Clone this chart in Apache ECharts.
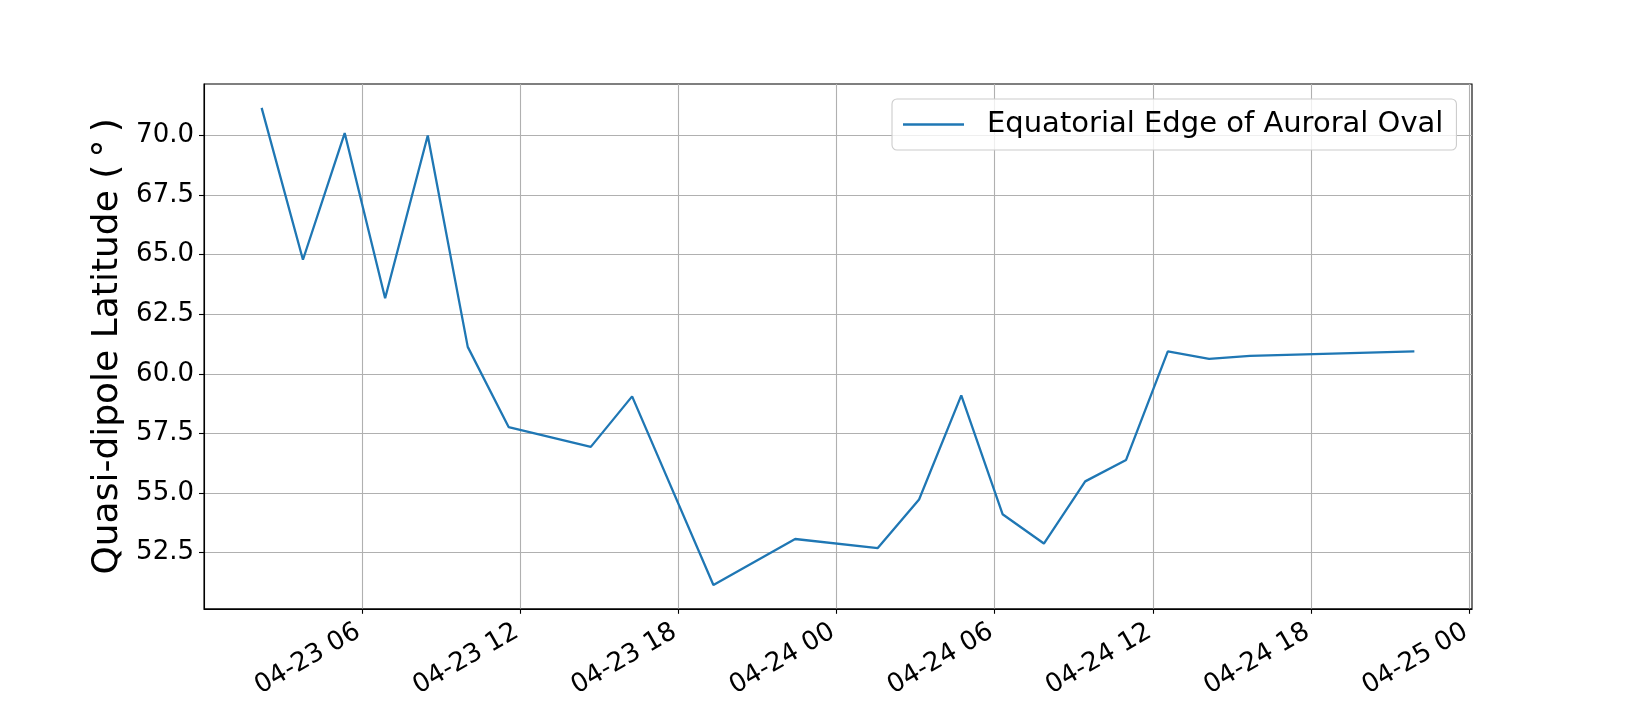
<!DOCTYPE html>
<html>
<head>
<meta charset="utf-8">
<title>Equatorial Edge of Auroral Oval</title>
<script src="https://cdn.jsdelivr.net/npm/echarts@6/dist/echarts.min.js"></script>
<style>
  html, body { margin: 0; padding: 0; background: #fff; }
  #chart { width: 1635px; height: 701px; }
</style>
</head>
<body>
<div id="chart"></div>
<script>
// satellite pass times (UTC) and the equatorial edge latitude found on each pass
const passTimes = [
  "2023-04-23 02:12", "2023-04-23 03:46", "2023-04-23 05:21", "2023-04-23 06:53",
  "2023-04-23 08:30", "2023-04-23 10:01", "2023-04-23 11:34", "2023-04-23 14:41",
  "2023-04-23 16:15", "2023-04-23 19:20", "2023-04-23 22:26", "2023-04-24 01:34",
  "2023-04-24 03:08", "2023-04-24 04:44", "2023-04-24 06:18", "2023-04-24 07:52",
  "2023-04-24 09:26", "2023-04-24 10:59", "2023-04-24 12:34", "2023-04-24 14:08",
  "2023-04-24 15:41", "2023-04-24 21:55"
];
const edgeLatitudes = [
  71.17, 64.79, 70.11, 63.17, 70.01, 61.13, 57.76, 56.93, 59.05, 51.13, 53.06,
  52.68, 54.72, 59.09, 54.10, 52.87, 55.48, 56.38, 60.94, 60.63, 60.75, 60.94
];

const xTicks = [
  "2023-04-23 06:00", "2023-04-23 12:00", "2023-04-23 18:00", "2023-04-24 00:00",
  "2023-04-24 06:00", "2023-04-24 12:00", "2023-04-24 18:00", "2023-04-25 00:00"
];
const yTicks = [52.5, 55.0, 57.5, 60.0, 62.5, 65.0, 67.5, 70.0];

const toMs = (s) => new Date(s.replace(" ", "T") + ":00").getTime();

const times = passTimes.map(toMs);
const xTickValues = xTicks.map(toMs);

// matplotlib-style 5% margins around the data
const pad = (lo, hi) => [lo - (hi - lo) * 0.05, hi + (hi - lo) * 0.05];
const [xMin, xMax] = pad(Math.min(...times), Math.max(...times));
const [yMin, yMax] = pad(Math.min(...edgeLatitudes), Math.max(...edgeLatitudes));

const FONT = "DejaVu Sans";
const gridLine = { show: true, lineStyle: { color: "#b0b0b0", width: 1.1 } };

const chart = echarts.init(document.getElementById("chart"), null, { renderer: "canvas" });

chart.setOption({
  animation: false,
  backgroundColor: "#fff",
  textStyle: { fontFamily: FONT },
  grid: {
    left: 204,
    right: 163,
    top: 84,
    bottom: 88,
    show: true,
    borderColor: "#000",
    borderWidth: 1.1,
    containLabel: false
  },
  legend: {
    left: 892,
    top: 99,
    padding: [11, 13, 11, 11],
    backgroundColor: "rgba(255,255,255,0.8)",
    borderColor: "#cccccc",
    borderWidth: 1.1,
    borderRadius: 5,
    icon: "rect",
    itemWidth: 61,
    itemHeight: 2.3,
    textStyle: {
      fontFamily: FONT,
      fontSize: 29,
      color: "#000",
      lineHeight: 29,
      padding: [0, 0, 0, 18]
    },
    data: ["Equatorial Edge of Auroral Oval"]
  },
  xAxis: {
    // plain value axis holding epoch ms, labelled as dates
    type: "value",
    min: xMin,
    max: xMax,
    axisLine: { show: true, onZero: false, lineStyle: { color: "#000", width: 1.1 } },
    axisTick: { show: true, length: 5, customValues: xTickValues, lineStyle: { color: "#000", width: 1.1 } },
    axisLabel: {
      customValues: xTickValues,
      rotate: 30,
      margin: 19,
      padding: [0, 4, 0, 0],
      fontFamily: FONT,
      fontSize: 26,
      color: "#000",
      formatter: (v) => echarts.time.format(v, "{MM}-{dd} {HH}", false)
    },
    splitLine: gridLine
  },
  yAxis: {
    type: "value",
    min: yMin,
    max: yMax,
    name: "Quasi-dipole Latitude (\u2009°\u2009)",
    nameLocation: "middle",
    nameRotate: 90,
    nameGap: 76,
    nameTextStyle: { fontFamily: FONT, fontSize: 36, color: "#000", lineHeight: 36 },
    axisLine: { show: true, onZero: false, lineStyle: { color: "#000", width: 1.1 } },
    axisTick: { show: true, length: 5, customValues: yTicks, lineStyle: { color: "#000", width: 1.1 } },
    axisLabel: {
      customValues: yTicks,
      margin: 10,
      fontFamily: FONT,
      fontSize: 26,
      color: "#000",
      formatter: (v) => v.toFixed(1)
    },
    splitLine: gridLine
  },
  series: [
    {
      name: "Equatorial Edge of Auroral Oval",
      type: "line",
      symbol: "none",
      color: "#1f77b4",
      lineStyle: { color: "#1f77b4", width: 2.3 },
      data: times.map((t, i) => [t, edgeLatitudes[i]])
    }
  ]
});
</script>
</body>
</html>
